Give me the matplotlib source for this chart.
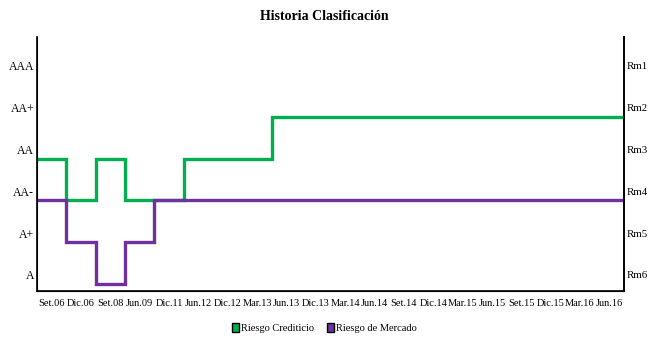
import numpy as np
import matplotlib
matplotlib.use("Agg")
import matplotlib.pyplot as plt
from matplotlib.patches import Patch

periods = ["Set.06", "Dic.06", "Set.08", "Jun.09", "Dic.11", "Jun.12", "Dic.12", "Mar.13",
           "Jun.13", "Dic.13", "Mar.14", "Jun.14", "Set.14", "Dic.14", "Mar.15", "Jun.15",
           "Set.15", "Dic.15", "Mar.16", "Jun.16"]
left_labels = ["A", "A+", "AA-", "AA", "AA+", "AAA"]
right_labels = ["Rm6", "Rm5", "Rm4", "Rm3", "Rm2", "Rm1"]

credit = ["AA", "AA-", "AA", "AA-", "AA-", "AA", "AA", "AA"] + ["AA+"] * 12
market = ["AA-", "A+", "A", "A+"] + ["AA-"] * 16

plt.rcParams['font.family'] = ['Liberation Serif', 'DejaVu Serif']

fig = plt.figure(figsize=(6.49, 3.41), dpi=100)
ax = fig.add_axes([37/649, 1-291/341, (624-37)/649, (291-37)/341])

lvl = {k: i for i, k in enumerate(left_labels)}
edges = np.arange(len(periods) + 1)
cv = [lvl[v] for v in credit]
mv = [lvl[v] for v in market]

ax.stairs(cv, edges, baseline=None, color="#00B050", lw=2.4, zorder=3)
ax.stairs(mv, edges, baseline=None, color="#7030A0", lw=2.4, zorder=4)

ax.set_xlim(0, len(periods))
ax.set_ylim(-0.167, 5.91)
ax.set_xticks(np.arange(len(periods)) + 0.5)
ax.set_xticklabels(periods, fontsize=7.5)
off = 0.22
ax.set_yticks(np.arange(len(left_labels)) + off)
ax.set_yticklabels(left_labels, fontsize=8.5)
ax.tick_params(axis='y', length=0, pad=2)
ax.tick_params(axis='x', length=0, pad=6)
ax.spines['top'].set_visible(False)
for s in ['left', 'bottom', 'right']:
    ax.spines[s].set_color('black')
    ax.spines[s].set_linewidth(1.2)

ax2 = ax.twinx()
ax2.set_ylim(ax.get_ylim())
ax2.set_yticks(np.arange(len(right_labels)) + off)
ax2.set_yticklabels(right_labels, fontsize=7.8)
ax2.tick_params(length=0, pad=2)
ax2.spines['top'].set_visible(False)
ax2.spines['right'].set_linewidth(1.2)

fig.text(0.5, 1-16/341, "Historia Clasificación", ha='center', va='center',
         fontsize=10, fontweight='bold')

handles = [Patch(facecolor="#00B050", edgecolor='black', label="Riesgo Crediticio"),
           Patch(facecolor="#7030A0", edgecolor='black', label="Riesgo de Mercado")]
fig.legend(handles=handles, loc='center', bbox_to_anchor=(0.5, 1-328/341), ncol=2,
           frameon=False, fontsize=7.5, handlelength=0.7, handleheight=0.9,
           handletextpad=0.2, columnspacing=1.2)

fig.savefig("out.png", dpi=100)
